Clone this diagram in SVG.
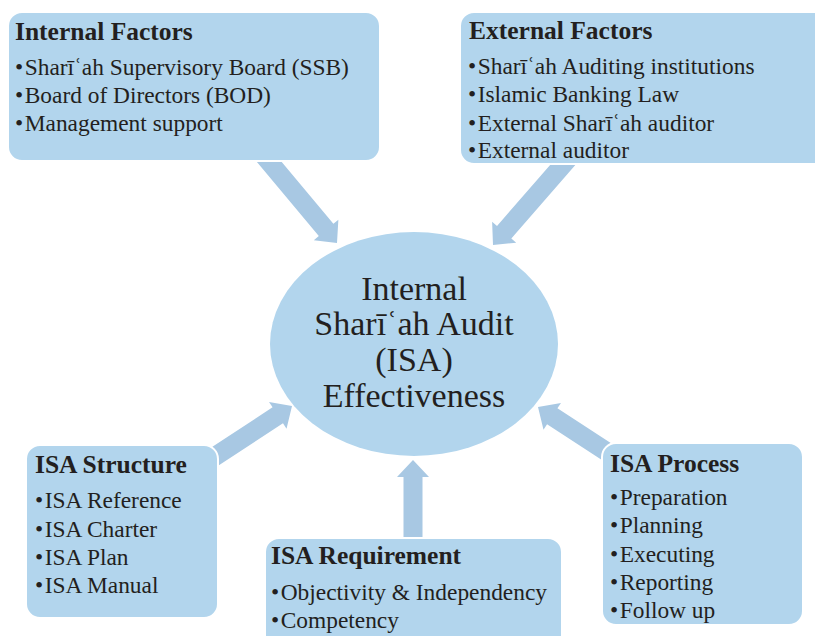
<svg xmlns="http://www.w3.org/2000/svg" width="815" height="636" viewBox="0 0 815 636">
<style>
.box{fill:#b2d5ed;stroke:#ffffff;stroke-width:2}
.arr{fill:#a8c8e3}
text{font-family:"Liberation Serif","Times New Roman",serif;fill:#231f20}
.t{font-size:25.5px;font-weight:bold}
.b{font-size:23.4px}
.c{font-size:34px;text-anchor:middle}
</style>
<defs>
<path id="ar" d="M0,0 L-17,-16 L-17,-9.5 L-120,-9.5 L-120,9.5 L-17,9.5 L-17,16 Z"/>
</defs>
<rect width="815" height="636" fill="#ffffff"/>
<g id="connectors">
<use href="#ar" class="arr" transform="translate(337,243) rotate(50.1)"/>
<use href="#ar" class="arr" transform="translate(493,245) rotate(131.1)"/>
<use href="#ar" class="arr" transform="translate(292,406) rotate(-33.2)"/>
<use href="#ar" class="arr" transform="translate(538,407) rotate(213.1)"/>
<use href="#ar" class="arr" transform="translate(413,460) rotate(-90)"/>
</g>
<g id="center">
<ellipse cx="414" cy="344" rx="144" ry="112" fill="#b2d5ed"/>
<text class="c" x="414" y="300">Internal</text>
<text class="c" x="414" y="335">Sharīʿah Audit</text>
<text class="c" x="414" y="371">(ISA)</text>
<text class="c" x="414" y="407">Effectiveness</text>
</g>
<g id="internal">
<rect class="box" x="8" y="12" width="372" height="149" rx="14"/>
<text class="t" x="15" y="40">Internal Factors</text>
<text class="b" x="15" y="75">•<tspan dx="1.5">Sharīʿah Supervisory Board (SSB)</tspan></text>
<text class="b" x="15" y="103">•<tspan dx="1.5">Board of Directors (BOD)</tspan></text>
<text class="b" x="15" y="131">•<tspan dx="1.5">Management support</tspan></text>
</g>
<g id="external">
<rect class="box" x="460" y="12" width="370" height="152" rx="14"/>
<text class="t" x="469" y="39">External Factors</text>
<text class="b" x="468" y="74">•<tspan dx="1.5">Sharīʿah Auditing institutions</tspan></text>
<text class="b" x="468" y="102">•<tspan dx="1.5">Islamic Banking Law</tspan></text>
<text class="b" x="468" y="131">•<tspan dx="1.5">External Sharīʿah auditor</tspan></text>
<text class="b" x="468" y="158">•<tspan dx="1.5">External auditor</tspan></text>
</g>
<g id="structure">
<rect class="box" x="26" y="445" width="192" height="173" rx="14"/>
<text class="t" x="35" y="473">ISA Structure</text>
<text class="b" x="35" y="508">•<tspan dx="1.5">ISA Reference</tspan></text>
<text class="b" x="35" y="537">•<tspan dx="1.5">ISA Charter</tspan></text>
<text class="b" x="35" y="565">•<tspan dx="1.5">ISA Plan</tspan></text>
<text class="b" x="35" y="593">•<tspan dx="1.5">ISA Manual</tspan></text>
</g>
<g id="requirement">
<rect class="box" x="265" y="538" width="297" height="120" rx="14"/>
<text class="t" x="271" y="564">ISA Requirement</text>
<text class="b" x="271" y="600">•<tspan dx="1.5">Objectivity &amp; Independency</tspan></text>
<text class="b" x="271" y="628">•<tspan dx="1.5">Competency</tspan></text>
</g>
<g id="process">
<rect class="box" x="602" y="443" width="201" height="182" rx="14"/>
<text class="t" x="610" y="472">ISA Process</text>
<text class="b" x="610" y="505">•<tspan dx="1.5">Preparation</tspan></text>
<text class="b" x="610" y="533">•<tspan dx="1.5">Planning</tspan></text>
<text class="b" x="610" y="562">•<tspan dx="1.5">Executing</tspan></text>
<text class="b" x="610" y="590">•<tspan dx="1.5">Reporting</tspan></text>
<text class="b" x="610" y="618">•<tspan dx="1.5">Follow up</tspan></text>
</g>
</svg>
